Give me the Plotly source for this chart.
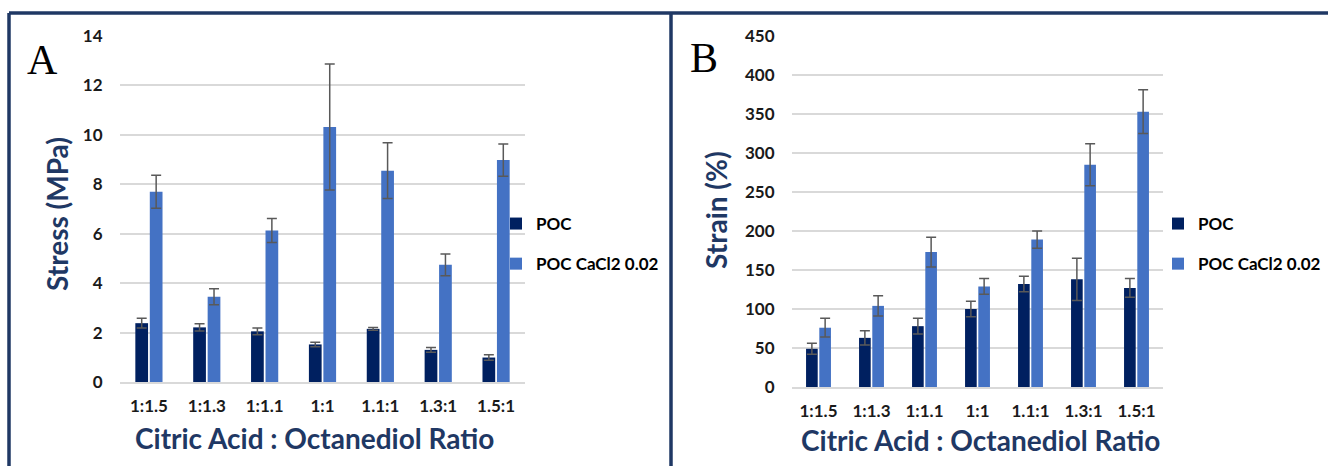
import plotly.graph_objects as go

# Citric acid : octanediol molar ratios
ratios = ["1:1.5", "1:1.3", "1:1.1", "1:1", "1.1:1", "1.3:1", "1.5:1"]

# Tensile stress (MPa)
stress_poc = [2.38, 2.21, 2.05, 1.52, 2.15, 1.30, 0.99]
stress_poc_err = [0.20, 0.15, 0.14, 0.09, 0.06, 0.10, 0.11]
stress_ca = [7.70, 3.45, 6.13, 10.32, 8.55, 4.74, 8.98]
stress_ca_err = [0.67, 0.32, 0.49, 2.55, 1.13, 0.44, 0.65]

# Strain at break (%)
strain_poc = [49, 63, 78, 100, 132, 138, 127]
strain_poc_err = [7, 9, 10, 10, 10, 27, 12]
strain_ca = [76, 104, 173, 129, 189, 285, 353]
strain_ca_err = [12, 13, 19, 10, 11, 27, 28]

W, H = 1328, 466
NAVY = "#002060"
LIGHT = "#4472C4"
TITLE = "#1F3864"
TICK = "#1A1A1A"
GRID = "#D9D9D9"
ERR = "#595959"


def px(x):
    return x / W


def py(y):
    return 1 - y / H


fig = go.Figure()


def add_pair(poc, poc_err, ca, ca_err, xa, ya, legend):
    for name, vals, errs, color in [
        ("POC", poc, poc_err, NAVY),
        ("POC CaCl2 0.02", ca, ca_err, LIGHT),
    ]:
        fig.add_trace(go.Bar(
            x=ratios, y=vals, name=name, marker_color=color,
            marker_line_width=0,
            error_y=dict(type="data", array=errs, visible=True,
                         color=ERR, thickness=1.5, width=5),
            xaxis=xa, yaxis=ya, legend=legend, legendgroup=name + legend,
        ))


add_pair(stress_poc, stress_poc_err, stress_ca, stress_ca_err, "x", "y", "legend")
add_pair(strain_poc, strain_poc_err, strain_ca, strain_ca_err, "x2", "y2", "legend2")

tickfont = dict(family="Lato", size=17, color=TICK, weight="bold")
xcommon = dict(type="category", showgrid=False, showline=True, linecolor=GRID,
               linewidth=1.5, ticks="outside", ticklen=8,
               tickcolor="rgba(0,0,0,0)", tickfont=tickfont, automargin=False)
ycommon = dict(showgrid=True, gridcolor=GRID, gridwidth=1.5, zeroline=False,
               showline=False, ticks="outside", ticklen=13,
               tickcolor="rgba(0,0,0,0)", tickfont=tickfont, automargin=False)

legcommon = dict(font=dict(family="Lato", size=17, color="#000000", weight="bold"),
                 bgcolor="rgba(0,0,0,0)", tracegroupgap=15,
                 xanchor="left", yanchor="top")

fig.update_layout(
    width=W, height=H,
    margin=dict(l=0, r=0, t=0, b=0, autoexpand=False),
    paper_bgcolor="white", plot_bgcolor="white",
    barmode="group", bargap=0.5, bargroupgap=0.12,
    xaxis=dict(domain=[px(120), px(525)], anchor="y", **xcommon),
    yaxis=dict(domain=[py(382), py(36)], range=[0, 14], dtick=2,
               anchor="x", **ycommon),
    xaxis2=dict(domain=[px(792), px(1163)], anchor="y2", **xcommon),
    yaxis2=dict(domain=[py(387), py(36)], range=[0, 450], dtick=50,
                anchor="x2", **ycommon),
    legend=dict(x=px(496), y=py(206), **legcommon),
    legend2=dict(x=px(1158), y=py(206), **legcommon),
    showlegend=True,
)

# Axis titles and panel letters
title_font = dict(family="Lato", size=28, color=TITLE, weight="bold")
letter_font = dict(family="Liberation Serif", size=42, color="#000000")
notes = [
    ("Citric Acid : Octanediol Ratio", 314, 438, 0, title_font),
    ("Citric Acid : Octanediol Ratio", 980, 440, 0, title_font),
    ("Stress (MPa)", 57, 214, -90, title_font),
    ("Strain (%)", 716, 210, -90, title_font),
    ("A", 42, 60, 0, letter_font),
    ("B", 704, 58, 0, letter_font),
]
for text, x, y, ang, font in notes:
    fig.add_annotation(text=text, x=px(x), y=py(y), xref="paper", yref="paper",
                       showarrow=False, textangle=ang, font=font,
                       xanchor="center", yanchor="middle")

# Panel frame lines
frame = [
    (9, 13, 1328, 13),
    (9, 13, 9, 466),
    (671, 13, 671, 466),
]
for x0, y0, x1, y1 in frame:
    fig.add_shape(type="line", xref="paper", yref="paper",
                  x0=px(x0), y0=py(y0), x1=px(x1), y1=py(y1),
                  line=dict(color=TITLE, width=3.5))

fig.write_html("out.html")
